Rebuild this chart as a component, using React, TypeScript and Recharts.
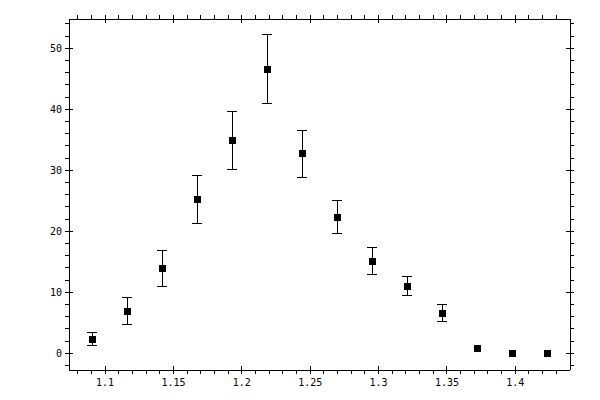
import React from 'react';
import { ScatterChart, Scatter, XAxis, YAxis, ErrorBar } from 'recharts';

const xValues = [1.0905, 1.1161, 1.1417, 1.1673, 1.1929, 1.2185, 1.2441, 1.2697, 1.2953, 1.3209, 1.3465, 1.3721, 1.3977, 1.4233];
const yValues = [2.3, 6.9, 13.9, 25.2, 34.9, 46.6, 32.7, 22.3, 15.1, 11.0, 6.6, 0.8, 0.0, 0.0];
const yErrors = [1.1, 2.2, 3.0, 3.9, 4.7, 5.6, 3.9, 2.7, 2.2, 1.6, 1.45, 0, 0, 0];

const xTicks = [
  1.08, 1.09, 1.1, 1.11, 1.12, 1.13, 1.14, 1.15, 1.16, 1.17, 1.18, 1.19, 1.2,
  1.21, 1.22, 1.23, 1.24, 1.25, 1.26, 1.27, 1.28, 1.29, 1.3, 1.31, 1.32, 1.33,
  1.34, 1.35, 1.36, 1.37, 1.38, 1.39, 1.4, 1.41, 1.42, 1.43,
];
const xMajor = [1.1, 1.15, 1.2, 1.25, 1.3, 1.35, 1.4];
const yTicks = [-2, 0, 2, 4, 6, 8, 10, 12, 14, 16, 18, 20, 22, 24, 26, 28, 30, 32, 34, 36, 38, 40, 42, 44, 46, 48, 50, 52, 54];
const yMajor = [0, 10, 20, 30, 40, 50];

const data = xValues.map((x, i) => ({ x, y: yValues[i], err: yErrors[i] }));

const isMajor = (v: number, majors: number[]) => majors.some((m) => Math.abs(m - v) < 1e-6);

const FONT = '"DejaVu Sans Mono", monospace';

// tickSize/tickMargin are 0, so x/y here sit right on the axis line
function FrameTick(props: any) {
  const { x, y, payload, side, labels } = props;
  const v = payload.value;
  const major = isMajor(v, side === 'left' || side === 'right' ? yMajor : xMajor);
  const len = 4;
  let line;
  if (side === 'bottom') {
    line = <line x1={x} x2={x} y1={major ? y - len : y} y2={y + len} stroke="#000" />;
  } else if (side === 'top') {
    line = <line x1={x} x2={x} y1={y - len} y2={major ? y + len : y} stroke="#000" />;
  } else if (side === 'left') {
    line = <line x1={x - len} x2={major ? x + len : x} y1={y} y2={y} stroke="#000" />;
  } else {
    line = <line x1={major ? x - len : x} x2={x + len} y1={y} y2={y} stroke="#000" />;
  }
  let text = null;
  if (labels && major) {
    if (side === 'bottom') {
      text = (
        <text x={x} y={y + 16} textAnchor="middle" fontSize={10} fontFamily={FONT} fill="#000">
          {String(v)}
        </text>
      );
    } else if (side === 'left') {
      text = (
        <text x={x - 7} y={y + 3.5} textAnchor="end" fontSize={10} fontFamily={FONT} fill="#000">
          {String(v)}
        </text>
      );
    }
  }
  return (
    <g>
      {line}
      {text}
    </g>
  );
}

export default function App() {
  return (
    <div style={{ position: 'absolute', left: 0, top: 0, background: '#fff', shapeRendering: 'crispEdges' }}>
      <ScatterChart width={600} height={400} margin={{ top: 0, right: 0, bottom: 0, left: 0 }}>
        <XAxis
          xAxisId="bottom"
          type="number"
          dataKey="x"
          domain={[1.0736, 1.44]}
          ticks={xTicks}
          interval={0}
          height={30}
          tickSize={0}
          tickMargin={0}
          tickLine={false}
          axisLine={{ stroke: '#000' }}
          allowDataOverflow
          tick={(p: any) => <FrameTick {...p} side="bottom" labels />}
        />
        <XAxis
          xAxisId="top"
          orientation="top"
          type="number"
          dataKey="x"
          domain={[1.0736, 1.44]}
          ticks={xTicks}
          interval={0}
          height={19}
          tickSize={0}
          tickMargin={0}
          tickLine={false}
          axisLine={{ stroke: '#000' }}
          allowDataOverflow
          tick={(p: any) => <FrameTick {...p} side="top" />}
        />
        <YAxis
          yAxisId="left"
          type="number"
          dataKey="y"
          domain={[-2.74, 54.8]}
          ticks={yTicks}
          interval={0}
          width={69}
          tickSize={0}
          tickMargin={0}
          tickLine={false}
          axisLine={{ stroke: '#000' }}
          allowDataOverflow
          tick={(p: any) => <FrameTick {...p} side="left" labels />}
        />
        <YAxis
          yAxisId="right"
          orientation="right"
          type="number"
          dataKey="y"
          domain={[-2.74, 54.8]}
          ticks={yTicks}
          interval={0}
          width={30}
          tickSize={0}
          tickMargin={0}
          tickLine={false}
          axisLine={{ stroke: '#000' }}
          allowDataOverflow
          tick={(p: any) => <FrameTick {...p} side="right" />}
        />
        <Scatter
          data={data}
          xAxisId="bottom"
          yAxisId="left"
          isAnimationActive={false}
          shape={(p: any) => <rect x={p.cx - 3.5} y={p.cy - 3.5} width={7} height={7} fill="#000" />}
        >
          <ErrorBar dataKey="err" direction="y" width={5} stroke="#000" strokeWidth={1} isAnimationActive={false} />
        </Scatter>
      </ScatterChart>
    </div>
  );
}
